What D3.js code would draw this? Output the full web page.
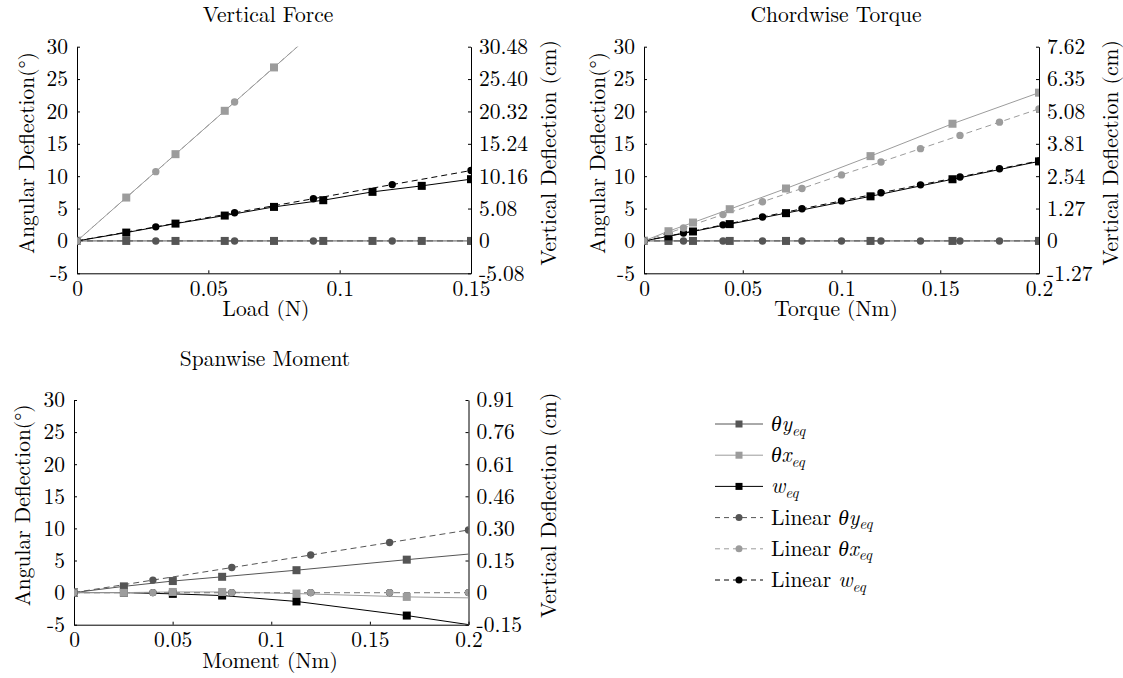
<!DOCTYPE html>
<html>
<head>
<meta charset="utf-8">
<script src="https://cdn.jsdelivr.net/npm/d3@7"></script>
<style>
  html, body { margin: 0; padding: 0; background: #fff; }
</style>
</head>
<body>
<svg id="chart" width="1123" height="678"></svg>
<script>
// ---- Vertical force test (load in N) ----
const loadN          = [0, 0.01875, 0.0375, 0.05625, 0.075, 0.09375, 0.1125, 0.13125, 0.15];
const loadThetaY     = [0, 0, 0, 0, 0, 0, 0, 0, 0];
const loadThetaX     = [0, 6.7, 13.4, 20.1, 26.8, 33.5, 40.2, 46.9, 53.6];
const loadW          = [0, 1.31, 2.72, 3.98, 5.34, 6.39, 7.70, 8.64, 9.69];   // cm
const loadLinN       = [0, 0.03, 0.06, 0.09, 0.12, 0.15];
const loadLinThetaY  = [0, 0, 0, 0, 0, 0];
const loadLinThetaX  = [0, 10.7, 21.45, 32.2, 42.9, 53.6];
const loadLinW       = [0, 2.21, 4.42, 6.63, 8.84, 11.05];                    // cm

// ---- Chordwise torque test (Nm) ----
const torqueNm         = [0, 0.0124, 0.0248, 0.0434, 0.0719, 0.1147, 0.1562, 0.2];
const torqueThetaY     = [0, 0, 0, 0, 0, 0, 0, 0];
const torqueThetaX     = [0, 1.5, 2.84, 4.9, 8.1, 13.1, 18.1, 22.9];
const torqueW          = [0, 0.18, 0.37, 0.66, 1.09, 1.75, 2.42, 3.12];     // cm
const torqueLinNm      = [0, 0.02, 0.04, 0.06, 0.08, 0.1, 0.12, 0.14, 0.16, 0.18, 0.2];
const torqueLinThetaY  = [0, 0, 0, 0, 0, 0, 0, 0, 0, 0, 0];
const torqueLinThetaX  = [0, 2.0, 4.07, 6.05, 8.1, 10.2, 12.2, 14.25, 16.3, 18.35, 20.4];
const torqueLinW       = [0, 0.31, 0.63, 0.94, 1.26, 1.57, 1.89, 2.20, 2.51, 2.83, 3.14]; // cm

// ---- Spanwise moment test (Nm) ----
const momentNm         = [0, 0.0253, 0.0501, 0.0751, 0.1128, 0.1687, 0.2];
const momentThetaY     = [0, 0.97, 1.8, 2.46, 3.49, 5.13, 6.0];
const momentThetaX     = [0, 0, 0.1, 0.1, -0.15, -0.67, -0.82];
const momentW          = [0, 0, -0.006, -0.014, -0.042, -0.109, -0.152];     // cm
const momentMarked     = 6;   // measured points carrying a marker
const momentLinNm      = [0, 0.04, 0.08, 0.12, 0.16, 0.2];
const momentLinThetaY  = [0, 1.95, 3.9, 5.85, 7.8, 9.75];
const momentLinThetaX  = [0, 0, 0, 0, 0, 0];
const momentLinW       = [0, 0, 0, 0, 0, 0];                                  // cm

// ---- Axis ticks ----
const angleTicks        = [-5, 0, 5, 10, 15, 20, 25, 30];
const loadTicks         = [0, 0.05, 0.1, 0.15];
const momentTicks       = [0, 0.05, 0.1, 0.15, 0.2];
const loadRightTicks    = [-5.08, 0, 5.08, 10.16, 15.24, 20.32, 25.40, 30.48];
const torqueRightTicks  = [-1.27, 0, 1.27, 2.54, 3.81, 5.08, 6.35, 7.62];
const momentRightTicks  = [-0.1524, 0, 0.1524, 0.3048, 0.4572, 0.6096, 0.762, 0.9144];

// ---- Text ----
const panelTitles  = ["Vertical Force", "Chordwise Torque", "Spanwise Moment"];
const xAxisTitles  = ["Load (N)", "Torque (Nm)", "Moment (Nm)"];
const leftTitle    = "Angular Deflection(°)";
const rightTitle   = "Vertical Deflection (cm)";

const COL_TY = "#555555", COL_TX = "#9c9c9c", COL_W = "#000000";
const FONT = 21.5;
const SERIF = '"Latin Modern Roman", "Liberation Serif", serif';

const svg = d3.select("#chart");

const panels = [
  { box: { l: 77, r: 471, t: 46.7, b: 273.3 }, xMax: 0.15, xTicks: loadTicks, rTicks: loadRightTicks,
    titleX: 268, titleY: 22, xLabelX: 266, leftX: 26, rightX: 548,
    x: loadN, ty: loadThetaY, tx: loadThetaX, w: loadW, marked: loadN.length,
    lx: loadLinN, lty: loadLinThetaY, ltx: loadLinThetaX, lw: loadLinW },
  { box: { l: 644, r: 1039, t: 46.7, b: 273.3 }, xMax: 0.2, xTicks: momentTicks, rTicks: torqueRightTicks,
    titleX: 836, titleY: 22, xLabelX: 836, leftX: 597, rightX: 1110,
    x: torqueNm, ty: torqueThetaY, tx: torqueThetaX, w: torqueW, marked: torqueNm.length,
    lx: torqueLinNm, lty: torqueLinThetaY, ltx: torqueLinThetaX, lw: torqueLinW },
  { box: { l: 74, r: 468.5, t: 400, b: 624.7 }, xMax: 0.2, xTicks: momentTicks, rTicks: momentRightTicks,
    titleX: 265, titleY: 366, xLabelX: 270, leftX: 22.5, rightX: 548,
    x: momentNm, ty: momentThetaY, tx: momentThetaX, w: momentW, marked: momentMarked,
    lx: momentLinNm, lty: momentLinThetaY, ltx: momentLinThetaX, lw: momentLinW }
];

const fmtRight = v => v === 0 ? "0" : d3.format(".2f")(v).replace("\u2212", "-");
const fmtPlain = v => String(v).replace("\u2212", "-");

panels.forEach((p, i) => {
  const { l, r, t, b } = p.box;
  const x  = d3.scaleLinear().domain([0, p.xMax]).range([l, r]);
  const yL = d3.scaleLinear().domain([-5, 30]).range([b, t]);
  const yR = d3.scaleLinear().domain([p.rTicks[0], p.rTicks[p.rTicks.length - 1]]).range([b, t]);

  const g = svg.append("g");
  const clipId = "clip" + i;
  svg.append("clipPath").attr("id", clipId)
    .append("rect").attr("x", l).attr("y", t).attr("width", r - l).attr("height", b - t);

  // axes (ticks pointing inward, no top border)
  const styleAxis = sel => {
    sel.select(".domain").attr("stroke", "#000").attr("stroke-width", 1);
    sel.selectAll(".tick line").attr("stroke", "#000");
    sel.selectAll("text").attr("fill", "#000");
  };
  g.append("g").attr("transform", `translate(0,${b})`)
    .call(d3.axisBottom(x).tickValues(p.xTicks).tickFormat(fmtPlain).tickSizeInner(-3).tickSizeOuter(0).tickPadding(7))
    .call(styleAxis);
  g.append("g").attr("transform", `translate(${l},0)`)
    .call(d3.axisLeft(yL).tickValues(angleTicks).tickFormat(fmtPlain).tickSizeInner(-3).tickSizeOuter(0).tickPadding(9))
    .call(styleAxis);
  g.append("g").attr("transform", `translate(${r},0)`)
    .call(d3.axisRight(yR).tickValues(p.rTicks).tickFormat(fmtRight).tickSizeInner(-3).tickSizeOuter(0).tickPadding(8))
    .call(styleAxis);

  // titles
  const label = (txt, tx, ty, rot) => g.append("text")
    .attr("transform", `translate(${tx},${ty})` + (rot ? " rotate(-90)" : ""))
    .attr("text-anchor", "middle").text(txt);
  label(panelTitles[i], p.titleX, p.titleY, false);
  label(xAxisTitles[i], p.xLabelX, b + 43, false);
  const midY = (t + b) / 2 - 7;
  label(leftTitle, p.leftX, midY, true).attr("dy", "0.35em");
  label(rightTitle, p.rightX, midY, true).attr("dy", "0.35em");

  // data
  const plot = g.append("g").attr("clip-path", `url(#${clipId})`);
  const line = (xs, ys, ysc, color, dashed) => plot.append("path")
    .datum(xs.map((v, k) => [v, ys[k]]))
    .attr("fill", "none").attr("stroke", color).attr("stroke-width", 1)
    .attr("stroke-dasharray", dashed ? "6,4" : null)
    .attr("d", d3.line().x(d => x(d[0])).y(d => ysc(d[1])));
  const squares = (xs, ys, ysc, color, n) => plot.append("g").selectAll("rect")
    .data(xs.slice(0, n).map((v, k) => [v, ys[k]])).join("rect")
    .attr("x", d => x(d[0]) - 4).attr("y", d => ysc(d[1]) - 4)
    .attr("width", 8).attr("height", 8).attr("fill", color);
  const circles = (xs, ys, ysc, color) => plot.append("g").selectAll("circle")
    .data(xs.map((v, k) => [v, ys[k]])).join("circle")
    .attr("cx", d => x(d[0])).attr("cy", d => ysc(d[1])).attr("r", 3.7).attr("fill", color);

  line(p.x, p.ty, yL, COL_TY, false);
  line(p.x, p.w, yR, COL_W, false);
  line(p.x, p.tx, yL, COL_TX, false);
  line(p.lx, p.lty, yL, COL_TY, true);
  line(p.lx, p.lw, yR, COL_W, true);
  line(p.lx, p.ltx, yL, COL_TX, true);
  squares(p.x, p.ty, yL, COL_TY, p.marked);
  squares(p.x, p.w, yR, COL_W, p.marked);
  squares(p.x, p.tx, yL, COL_TX, p.marked);
  circles(p.lx, p.lty, yL, COL_TY);
  circles(p.lx, p.lw, yR, COL_W);
  circles(p.lx, p.ltx, yL, COL_TX);
});

// ---- Legend ----
const legendItems = [
  { pre: "", sym: "θy", color: COL_TY, dashed: false },
  { pre: "", sym: "θx", color: COL_TX, dashed: false },
  { pre: "", sym: "w",  color: COL_W,  dashed: false },
  { pre: "Linear ", sym: "θy", color: COL_TY, dashed: true },
  { pre: "Linear ", sym: "θx", color: COL_TX, dashed: true },
  { pre: "Linear ", sym: "w",  color: COL_W,  dashed: true }
];
const legendRowY = d3.scalePoint().domain(d3.range(legendItems.length)).range([424, 580]);
const leg = svg.append("g");
legendItems.forEach((it, k) => {
  const y = legendRowY(k);
  leg.append("line").attr("x1", 715).attr("x2", 763).attr("y1", y).attr("y2", y)
    .attr("stroke", it.color).attr("stroke-width", 1)
    .attr("stroke-dasharray", it.dashed ? "5,4" : null);
  if (it.dashed) {
    leg.append("circle").attr("cx", 739).attr("cy", y).attr("r", 3.5).attr("fill", it.color);
  } else {
    leg.append("rect").attr("x", 735.5).attr("y", y - 3.5).attr("width", 7).attr("height", 7).attr("fill", it.color);
  }
  const txt = leg.append("text").attr("x", 771).attr("y", y).attr("dy", "0.33em");
  if (it.pre) txt.append("tspan").text(it.pre);
  txt.append("tspan").style("font-style", "italic").text(it.sym);
  txt.append("tspan").style("font-style", "italic").style("font-size", (FONT * 0.7) + "px")
    .attr("dy", "0.3em").text("eq");
});

// one serif face for every label in the figure
svg.selectAll("text")
  .style("font-family", SERIF)
  .style("font-size", function () { return this.style.fontSize || FONT + "px"; });
svg.selectAll(".tick text").style("fill", "#000");
</script>
</body>
</html>
